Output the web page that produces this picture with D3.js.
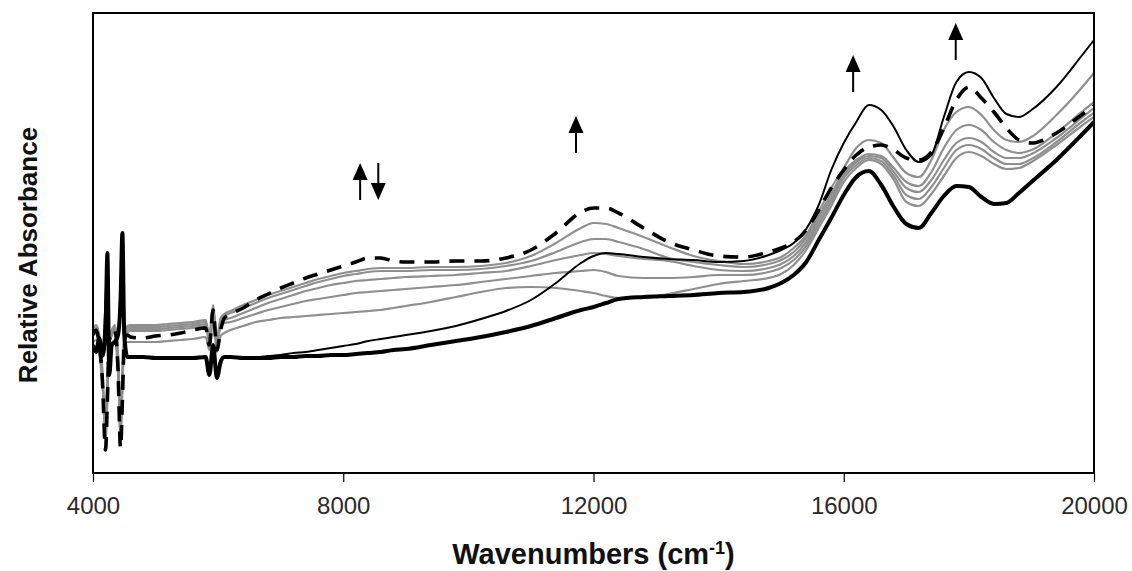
<!DOCTYPE html>
<html>
<head>
<meta charset="utf-8">
<script src="https://cdn.jsdelivr.net/npm/d3@7/dist/d3.min.js"></script>
<style>
  html, body { margin: 0; padding: 0; background: #fff; }
  svg { display: block; }
</style>
</head>
<body>
<svg id="chart" width="1132" height="571"></svg>
<script>
// ---------------- data ----------------
const wavenumbers = [
  4000, 4050, 4100, 4150, 4200, 4230, 4260, 4300, 4350, 4400,
  4440, 4470, 4500, 4550, 4600, 4800, 5000, 5200, 5400, 5600,
  5800, 5860, 5920, 5980, 6040, 6100, 6200, 6400, 6600, 6800,
  7000, 7200, 7400, 7600, 7800, 8000, 8200, 8400, 8600, 8800,
  9000, 9400, 9800, 10200, 10600, 11000, 11400, 11800, 12000, 12200,
  12400, 12800, 13200, 13600, 14000, 14400, 14800, 15000, 15200, 15400,
  15600, 15800, 16000, 16200, 16400, 16600, 16800, 17000, 17200, 17400,
  17600, 17800, 18000, 18200, 18400, 18600, 18800, 19000, 19400, 19800,
  20000
];

// thick black solid spectrum
const thickBlack = [
  1.28, 1.21, 1.35, 1.17, 1.43, 2.20, 0.98, 1.28, 1.31, 1.38,
  1.73, 2.40, 1.38, 1.16, 1.16, 1.16, 1.15, 1.15, 1.15, 1.15,
  1.16, 0.98, 1.28, 0.95, 1.11, 1.16, 1.16, 1.15, 1.15, 1.15,
  1.16, 1.16, 1.17, 1.17, 1.18, 1.18, 1.19, 1.20, 1.21, 1.23,
  1.24, 1.28, 1.32, 1.36, 1.41, 1.47, 1.55, 1.63, 1.66, 1.70,
  1.74, 1.76, 1.77, 1.78, 1.80, 1.81, 1.85, 1.90, 1.98, 2.11,
  2.33, 2.55, 2.78, 2.96, 3.02, 2.88, 2.66, 2.49, 2.45, 2.60,
  2.77, 2.87, 2.86, 2.76, 2.69, 2.70, 2.80, 2.91, 3.13, 3.38,
  3.51
];

// thin black solid spectrum
const thinBlack = [
  1.28, 1.23, 1.35, 1.18, 1.73, 2.15, 1.03, 1.28, 1.31, 1.41,
  1.83, 2.33, 1.43, 1.17, 1.16, 1.16, 1.15, 1.15, 1.15, 1.15,
  1.16, 1.03, 1.25, 0.98, 1.13, 1.16, 1.16, 1.16, 1.16, 1.17,
  1.18, 1.20, 1.21, 1.23, 1.25, 1.27, 1.29, 1.32, 1.34, 1.36,
  1.38, 1.42, 1.47, 1.54, 1.62, 1.73, 1.90, 2.10, 2.17, 2.20,
  2.19, 2.16, 2.14, 2.13, 2.11, 2.12, 2.18, 2.23, 2.30, 2.44,
  2.68, 3.03, 3.30, 3.51, 3.68, 3.63, 3.46, 3.23, 3.11, 3.18,
  3.56, 3.91, 4.01, 3.95, 3.75, 3.59, 3.56, 3.63, 3.86, 4.17,
  4.33
];

// dashed black spectrum
const dashedBlack = [
  1.38, 1.43, 1.28, 0.93, 0.23, 0.73, 1.33, 1.38, 1.43, 1.03,
  0.25, 0.73, 1.33, 1.38, 1.36, 1.35, 1.37, 1.38, 1.40, 1.43,
  1.45, 1.28, 1.63, 1.23, 1.43, 1.55, 1.59, 1.65, 1.73, 1.79,
  1.85, 1.90, 1.95, 1.99, 2.03, 2.07, 2.11, 2.15, 2.15, 2.12,
  2.11, 2.11, 2.12, 2.12, 2.15, 2.23, 2.40, 2.61, 2.65, 2.65,
  2.60, 2.45, 2.31, 2.23, 2.17, 2.16, 2.21, 2.25, 2.31, 2.43,
  2.63, 2.85, 3.03, 3.18, 3.26, 3.28, 3.23, 3.15, 3.13, 3.21,
  3.45, 3.73, 3.86, 3.75, 3.61, 3.45, 3.33, 3.30, 3.40, 3.58,
  3.67
];

// grey intermediate spectra
const grey1 = [
  1.45, 1.48, 1.38, 1.03, 0.33, 0.73, 1.38, 1.43, 1.48, 1.18,
  0.33, 0.83, 1.38, 1.47, 1.48, 1.48, 1.48, 1.49, 1.50, 1.51,
  1.53, 1.38, 1.68, 1.35, 1.55, 1.59, 1.62, 1.68, 1.73, 1.78,
  1.82, 1.86, 1.90, 1.94, 1.97, 2.00, 2.02, 2.04, 2.05, 2.05,
  2.05, 2.06, 2.06, 2.07, 2.10, 2.17, 2.30, 2.45, 2.50, 2.49,
  2.45, 2.36, 2.26, 2.17, 2.12, 2.09, 2.12, 2.16, 2.25, 2.38,
  2.61, 2.85, 3.05, 3.25, 3.33, 3.30, 3.15, 3.00, 2.96, 3.13,
  3.43, 3.61, 3.66, 3.58, 3.43, 3.33, 3.31, 3.36, 3.58, 3.85,
  4.00
];
const grey2 = [
  1.43, 1.46, 1.35, 0.98, 0.38, 0.78, 1.35, 1.41, 1.46, 1.13,
  0.38, 0.88, 1.35, 1.45, 1.46, 1.46, 1.46, 1.47, 1.48, 1.49,
  1.51, 1.35, 1.65, 1.33, 1.53, 1.57, 1.60, 1.65, 1.70, 1.75,
  1.79, 1.83, 1.87, 1.91, 1.94, 1.97, 1.99, 2.01, 2.02, 2.02,
  2.02, 2.03, 2.03, 2.04, 2.07, 2.12, 2.21, 2.31, 2.34, 2.34,
  2.31, 2.24, 2.15, 2.11, 2.08, 2.06, 2.09, 2.13, 2.21, 2.35,
  2.57, 2.79, 3.01, 3.13, 3.19, 3.17, 3.05, 2.91, 2.87, 3.01,
  3.25, 3.43, 3.48, 3.43, 3.31, 3.23, 3.20, 3.23, 3.40, 3.61,
  3.71
];
const grey3 = [
  1.41, 1.44, 1.33, 0.95, 0.43, 0.83, 1.33, 1.39, 1.44, 1.08,
  0.43, 0.93, 1.33, 1.43, 1.44, 1.44, 1.44, 1.45, 1.46, 1.47,
  1.49, 1.33, 1.63, 1.31, 1.49, 1.53, 1.55, 1.60, 1.65, 1.70,
  1.74, 1.78, 1.82, 1.85, 1.88, 1.90, 1.92, 1.93, 1.94, 1.95,
  1.96, 1.97, 1.98, 2.00, 2.02, 2.07, 2.13, 2.18, 2.20, 2.19,
  2.17, 2.14, 2.12, 2.07, 2.03, 2.02, 2.05, 2.09, 2.17, 2.31,
  2.53, 2.75, 2.98, 3.11, 3.17, 3.15, 3.01, 2.85, 2.81, 2.93,
  3.13, 3.30, 3.35, 3.31, 3.21, 3.15, 3.15, 3.19, 3.35, 3.55,
  3.65
];
const grey4 = [
  1.39, 1.42, 1.31, 0.93, 0.48, 0.88, 1.31, 1.37, 1.42, 1.05,
  0.48, 0.98, 1.31, 1.41, 1.42, 1.42, 1.42, 1.43, 1.44, 1.45,
  1.47, 1.31, 1.61, 1.29, 1.47, 1.50, 1.51, 1.55, 1.59, 1.63,
  1.66, 1.69, 1.72, 1.74, 1.76, 1.78, 1.80, 1.81, 1.82, 1.83,
  1.84, 1.86, 1.88, 1.91, 1.94, 1.97, 2.00, 2.02, 2.03, 2.01,
  1.97, 1.95, 1.95, 1.96, 1.98, 1.98, 2.01, 2.05, 2.13, 2.27,
  2.49, 2.71, 2.95, 3.08, 3.15, 3.12, 2.97, 2.78, 2.74, 2.86,
  3.05, 3.23, 3.28, 3.24, 3.15, 3.09, 3.09, 3.14, 3.31, 3.51,
  3.60
];
const grey5 = [
  1.31, 1.33, 1.23, 0.88, 0.53, 0.93, 1.25, 1.30, 1.33, 1.01,
  0.53, 1.03, 1.25, 1.31, 1.31, 1.31, 1.31, 1.32, 1.33, 1.34,
  1.36, 1.23, 1.55, 1.21, 1.37, 1.40, 1.43, 1.47, 1.51, 1.53,
  1.55, 1.56, 1.57, 1.58, 1.59, 1.60, 1.61, 1.62, 1.63, 1.65,
  1.67, 1.71, 1.76, 1.81, 1.85, 1.86, 1.85, 1.82, 1.80, 1.77,
  1.75, 1.75, 1.79, 1.84, 1.89, 1.92, 1.95, 1.99, 2.08, 2.23,
  2.45, 2.67, 2.91, 3.05, 3.13, 3.09, 2.93, 2.71, 2.67, 2.79,
  2.97, 3.15, 3.21, 3.17, 3.09, 3.04, 3.05, 3.11, 3.28, 3.47,
  3.56
];

const xTicks = [4000, 8000, 12000, 16000, 20000];

// arrows: wavenumber, tail value, tip value
const arrowX    = [8270, 8560, 11720, 16150, 17790];
const arrowFrom = [2.73, 3.10, 3.20, 3.81, 4.13];
const arrowTo   = [3.10, 2.73, 3.57, 4.18, 4.50];

// ---------------- layout ----------------
const W = 1132, H = 571;
const margin = { top: 13, right: 38, bottom: 98, left: 93 };
const iw = W - margin.left - margin.right;
const ih = H - margin.top - margin.bottom;

const svg = d3.select("#chart");
const g = svg.append("g").attr("transform", `translate(${margin.left},${margin.top})`);

const x = d3.scaleLinear().domain([4000, 20000]).range([0, iw]);
const y = d3.scaleLinear().domain([0, 4.6]).range([ih, 0]);

const line = d3.line()
  .x((d, i) => x(wavenumbers[i]))
  .y(d => y(d))
  .curve(d3.curveMonotoneX);

g.append("defs").append("clipPath").attr("id", "clip")
  .append("rect").attr("width", iw).attr("height", ih);

const plot = g.append("g").attr("clip-path", "url(#clip)");

const greys = [grey5, grey4, grey3, grey2, grey1];
greys.forEach(s => {
  plot.append("path").datum(s)
    .attr("d", line)
    .attr("fill", "none")
    .attr("stroke", "#8f8f8f")
    .attr("stroke-width", 2.2)
    .attr("stroke-linejoin", "round");
});

plot.append("path").datum(thickBlack)
  .attr("d", line).attr("fill", "none")
  .attr("stroke", "#000").attr("stroke-width", 4)
  .attr("stroke-linejoin", "round");

plot.append("path").datum(thinBlack)
  .attr("d", line).attr("fill", "none")
  .attr("stroke", "#000").attr("stroke-width", 2)
  .attr("stroke-linejoin", "round");

plot.append("path").datum(dashedBlack)
  .attr("d", line).attr("fill", "none")
  .attr("stroke", "#000").attr("stroke-width", 3.6)
  .attr("stroke-dasharray", "15,10")
  .attr("stroke-linejoin", "round");

// arrows
const headH = 17, headW = 15;
arrowX.forEach((wx, i) => {
  const ax = x(wx), y0 = y(arrowFrom[i]), y1 = y(arrowTo[i]);
  const dir = y1 < y0 ? -1 : 1;
  const baseY = y1 - dir * headH;
  g.append("line")
    .attr("x1", ax).attr("x2", ax)
    .attr("y1", y0).attr("y2", baseY)
    .attr("stroke", "#000").attr("stroke-width", 2);
  g.append("path")
    .attr("d", `M${ax},${y1} L${ax - headW / 2},${baseY} L${ax + headW / 2},${baseY} Z`)
    .attr("fill", "#000");
});

// frame
g.append("rect")
  .attr("width", iw).attr("height", ih)
  .attr("fill", "none").attr("stroke", "#000").attr("stroke-width", 2);

// x axis
const xAxis = g.append("g")
  .attr("transform", `translate(0,${ih})`)
  .call(d3.axisBottom(x).tickValues(xTicks).tickFormat(d3.format("d")).tickSize(9).tickSizeOuter(0).tickPadding(15));
xAxis.select(".domain").remove();
xAxis.selectAll(".tick line").attr("stroke", "#000").attr("stroke-width", 1.2);
xAxis.selectAll(".tick text")
  .attr("fill", "#2a2a2a")
  .style("font-family", "'Liberation Sans', Arial, sans-serif")
  .style("font-size", "24px");

// axis titles
const xt = svg.append("text")
  .attr("x", margin.left + iw / 2)
  .attr("y", 564)
  .attr("text-anchor", "middle")
  .style("font-family", "'Liberation Sans', Arial, sans-serif")
  .style("font-size", "29px")
  .style("font-weight", "bold")
  .attr("fill", "#111");
xt.append("tspan").text("Wavenumbers (cm");
xt.append("tspan").text("-1").attr("dy", -10).style("font-size", "18px");
xt.append("tspan").text(")").attr("dy", 10);

svg.append("text")
  .attr("transform", `translate(37,255) rotate(-90)`)
  .attr("text-anchor", "middle")
  .style("font-family", "'Liberation Sans', Arial, sans-serif")
  .style("font-size", "26px")
  .style("font-weight", "bold")
  .attr("fill", "#111")
  .text("Relative Absorbance");
</script>
</body>
</html>
